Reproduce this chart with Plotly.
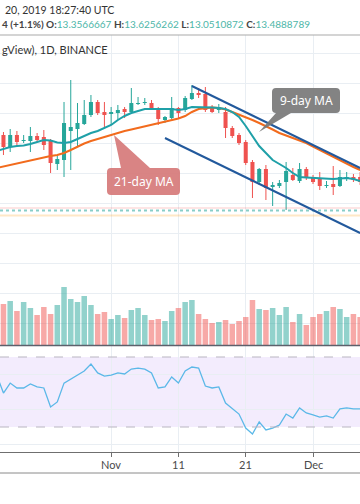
import plotly.graph_objects as go
import pandas as pd

W, H = 360, 504

# ---------------- data ----------------
all_dates = pd.date_range("2019-10-15", "2019-12-08", freq="D")
candle_dates = all_dates[1:]

opens  = [26.5, 25.3, 26.5, 25.9, 25.9, 26.4, 26.3, 26.0, 23.6, 24.0, 26.9, 27.1, 27.6, 28.5, 29.8, 28.8,
          28.6, 28.7, 29.1, 28.8, 29.6, 29.7, 29.7, 29.2, 28.0, 28.2, 29.2, 29.0, 30.1, 30.7, 30.6, 29.2,
          29.0, 28.8, 27.2, 26.5, 25.8, 23.8, 21.8, 23.1, 21.3, 21.4, 21.8, 22.5, 21.9, 23.1,
          22.3, 22.2, 21.4, 21.6, 21.4, 22.1, 22.3, 22.3]
highs  = [26.8, 27.1, 26.9, 26.5, 27.3, 26.7, 27.0, 26.1, 24.5, 29.8, 32.0, 29.7, 30.0, 30.5, 30.0, 29.8,
          29.3, 29.5, 29.3, 31.2, 30.3, 30.2, 30.0, 29.3, 28.4, 30.3, 29.3, 30.4, 31.5, 31.2, 31.3, 29.5,
          29.6, 29.3, 27.4, 26.7, 26.0, 24.0, 23.2, 23.5, 21.8, 22.0, 23.8, 23.2, 23.7, 23.3,
          22.5, 22.8, 21.9, 23.4, 23.0, 22.8, 22.6, 22.8]
lows   = [24.5, 24.8, 25.3, 25.7, 24.8, 25.8, 25.0, 22.7, 23.0, 22.3, 23.0, 25.3, 27.5, 28.3, 28.5, 27.3,
          27.5, 28.0, 28.2, 28.7, 29.5, 29.5, 29.0, 27.5, 27.7, 28.1, 28.2, 28.8, 30.0, 30.2, 28.8, 28.7,
          28.7, 26.2, 26.2, 25.5, 23.5, 20.2, 21.5, 20.0, 19.4, 21.2, 19.0, 21.9, 21.7, 22.0,
          21.6, 21.0, 21.2, 20.5, 21.3, 21.9, 21.8, 21.5]
closes = [25.3, 26.5, 25.8, 26.0, 26.4, 26.0, 25.5, 23.7, 24.1, 27.7, 27.3, 27.7, 28.5, 29.8, 28.7, 28.5,
          28.8, 29.0, 28.8, 29.7, 29.7, 29.8, 29.1, 28.1, 28.3, 29.2, 28.7, 30.2, 30.7, 30.5, 29.0, 28.8,
          29.3, 27.2, 26.4, 25.7, 23.7, 21.8, 23.1, 21.2, 21.5, 21.7, 22.9, 22.0, 23.1, 22.2,
          21.8, 21.4, 21.5, 21.3, 22.3, 22.3, 22.0, 21.8]
volumes = [410, 440, 340, 430, 370, 300, 380, 310, 400, 580, 460, 430, 490, 400, 310, 330,
           260, 300, 270, 350, 370, 300, 250, 260, 240, 340, 370, 430, 450, 310, 260, 220,
           230, 250, 210, 240, 280, 450, 360, 350, 370, 300, 380, 230, 310, 200,
           280, 310, 340, 380, 360, 280, 310, 280]
ma9 = [24.9, 25.1, 25.3, 25.4, 25.45, 25.6, 25.8, 26.0, 25.95, 25.75, 25.7, 25.8, 26.1, 26.4, 26.7, 26.9, 27.2,
       27.5, 28.0, 28.4, 28.7, 28.9, 29.1, 29.1, 29.1, 29.1, 29.1, 29.0, 29.1, 29.3, 29.3, 29.3, 29.25, 29.2,
       29.1, 28.8, 28.3, 27.4, 26.4, 25.4, 24.7, 24.0, 23.6, 23.2, 22.7, 22.3, 22.25,
       22.2, 22.15, 22.1, 22.1, 22.15, 22.2, 22.1, 21.9]
ma21 = [23.2, 23.35, 23.5, 23.7, 23.85, 24.0, 24.15, 24.3, 24.4, 24.5, 24.7, 25.0, 25.35, 25.65, 25.9, 26.1, 26.35,
        26.55, 26.7, 26.9, 27.05, 27.2, 27.4, 27.55, 27.7, 27.85, 28.0, 28.15, 28.4, 28.8, 29.1, 29.2, 29.25, 29.2,
        29.05, 28.8, 28.55, 28.25, 28.0, 27.7, 27.4, 27.05, 26.7, 26.45, 26.2, 26.0, 25.7,
        25.35, 25.0, 24.7, 24.35, 24.0, 23.65, 23.3, 23.0]
rsi = [59.7, 49.4, 55.1, 52.3, 52.3, 54.6, 52.9, 52.3, 41.4, 44.3, 55.1, 57.4, 59.7, 62.0, 66.0, 60.9, 59.1,
       59.7, 60.9, 60.3, 63.1, 63.7, 63.1, 60.9, 52.3, 52.9, 58.6, 55.1, 62.0, 64.3, 63.7, 53.4, 52.3, 52.9,
       43.7, 40.3, 37.4, 29.4, 26.0, 32.9, 28.3, 29.4, 31.1, 37.4, 35.1, 40.9, 38.0,
       36.9, 35.7, 36.3, 35.1, 40.3, 40.9, 40.3, 40.3]

tick_dates = ["2019-11-01", "2019-11-11", "2019-11-21", "2019-12-01"]
tick_labels = ["Nov", "11", "21", "Dec"]

upper_trend = (["2019-11-13", "2019-12-08"], [31.4, 23.2])
lower_trend = (["2019-11-09", "2019-12-08"], [26.2, 16.7])
price_lines = [19.2, 18.95, 18.45]

TEAL = "#26a69a"
RED = "#ef5350"
DAY = 86400000

# ---------------- helpers ----------------
def px(x):
    return x / W

def py(y):
    return 1 - y / H

def callout(x0, y0, x1, y1, r, tail_side, b1, b2, tip):
    P = lambda a, b: f"{px(a):.5f},{py(b):.5f}"
    s = f"M {P(x0 + r, y0)} "
    if tail_side == "top":
        s += f"L {P(b1, y0)} L {P(*tip)} L {P(b2, y0)} "
    s += f"L {P(x1 - r, y0)} Q {P(x1, y0)} {P(x1, y0 + r)} "
    s += f"L {P(x1, y1 - r)} Q {P(x1, y1)} {P(x1 - r, y1)} "
    if tail_side == "bottom":
        s += f"L {P(b2, y1)} L {P(*tip)} L {P(b1, y1)} "
    s += f"L {P(x0 + r, y1)} Q {P(x0, y1)} {P(x0, y1 - r)} "
    s += f"L {P(x0, y0 + r)} Q {P(x0, y0)} {P(x0 + r, y0)} Z"
    return s

# ---------------- figure ----------------
fig = go.Figure()

up = [c >= o for o, c in zip(opens, closes)]
vol_colors = ["rgba(38,166,154,0.5)" if u else "rgba(239,83,80,0.5)" for u in up]
fig.add_trace(go.Bar(x=candle_dates, y=volumes, marker=dict(color=vol_colors, line=dict(width=0)),
                     width=0.82 * DAY, xaxis="x", yaxis="y2", showlegend=False, hoverinfo="skip"))

# wicks
for flag, col in ((True, TEAL), (False, RED)):
    wx, wy = [], []
    for d, h, l, u in zip(candle_dates, highs, lows, up):
        if u == flag:
            wx += [d, d, None]
            wy += [l, h, None]
    fig.add_trace(go.Scatter(x=wx, y=wy, mode="lines", line=dict(color=col, width=1),
                             xaxis="x", yaxis="y", showlegend=False, hoverinfo="skip"))
# bodies
body_base = [min(o, c) for o, c in zip(opens, closes)]
body_h = [max(abs(c - o), 0.1) for o, c in zip(opens, closes)]
fig.add_trace(go.Bar(x=candle_dates, y=body_h, base=body_base, width=0.6 * DAY,
                     marker=dict(color=[TEAL if u else RED for u in up], line=dict(width=0)),
                     xaxis="x", yaxis="y", showlegend=False))

fig.add_trace(go.Scatter(x=all_dates, y=ma21, mode="lines", line=dict(color="#f26b1d", width=2),
                         xaxis="x", yaxis="y", showlegend=False))
fig.add_trace(go.Scatter(x=all_dates, y=ma9, mode="lines", line=dict(color="#1fa0a8", width=2),
                         xaxis="x", yaxis="y", showlegend=False))

fig.add_trace(go.Scatter(x=all_dates, y=rsi, mode="lines", line=dict(color="#5bb8e8", width=1.3),
                         xaxis="x2", yaxis="y3", showlegend=False))

grid = "#e9eef3"
fig.update_layout(
    width=W, height=H, margin=dict(l=0, r=0, t=0, b=0),
    paper_bgcolor="white", plot_bgcolor="white", barmode="overlay",
    xaxis=dict(domain=[0, 1], anchor="y", type="date",
               range=["2019-10-15 11:40", "2019-12-07 23:30"],
               rangeslider=dict(visible=False), showticklabels=False,
               tickvals=tick_dates, showgrid=True, gridcolor=grid, zeroline=False),
    yaxis=dict(domain=[py(345), py(35)], range=[5.5, 36.5], tick0=1.7, dtick=3,
               showticklabels=False, showgrid=True, gridcolor=grid, zeroline=False),
    yaxis2=dict(overlaying="y", range=[0, 3100], visible=False),
    xaxis2=dict(domain=[0, 1], anchor="y3", type="date", matches="x",
                tickvals=tick_dates, showticklabels=False, ticks="outside", ticklen=4,
                tickcolor="#6f6f6f", showline=True, linecolor="#6f6f6f", linewidth=1,
                showgrid=True, gridcolor=grid, zeroline=False),
    yaxis3=dict(domain=[py(452), py(346)], range=[15.7, 76.3], tick0=0, dtick=20,
                showticklabels=False, showgrid=True, gridcolor=grid, zeroline=False),
)

shapes = []
shapes.append(dict(type="rect", xref="paper", yref="y3", x0=0, x1=1, y0=30, y1=70,
                   fillcolor="rgba(150,80,235,0.11)", line=dict(width=0), layer="below"))
for lvl in (70, 30):
    shapes.append(dict(type="line", xref="paper", yref="y3", x0=0, x1=1, y0=lvl, y1=lvl,
                       line=dict(color="#b9b6c2", width=1.2, dash="dash")))
shapes.append(dict(type="line", xref="paper", yref="y", x0=0, x1=1, y0=price_lines[0], y1=price_lines[0],
                   line=dict(color="rgba(239,83,80,0.3)", width=1)))
shapes.append(dict(type="line", xref="paper", yref="y", x0=0, x1=1, y0=price_lines[1], y1=price_lines[1],
                   line=dict(color="rgba(38,166,154,0.55)", width=2, dash="dot")))
shapes.append(dict(type="line", xref="paper", yref="y", x0=0, x1=1, y0=price_lines[2], y1=price_lines[2],
                   line=dict(color="rgba(255,152,0,0.22)", width=2)))
for xs, ys in (upper_trend, lower_trend):
    shapes.append(dict(type="line", xref="x", yref="y", x0=xs[0], x1=xs[1], y0=ys[0], y1=ys[1],
                       line=dict(color="#22599c", width=2)))
shapes.append(dict(type="line", xref="paper", yref="paper", x0=0, x1=1, y0=py(35), y1=py(35),
                   line=dict(color="#a9a9a9", width=1)))
shapes.append(dict(type="line", xref="paper", yref="paper", x0=0, x1=1, y0=py(345.5), y1=py(345.5),
                   line=dict(color="#5d606b", width=1.5)))
shapes.append(dict(type="line", xref="paper", yref="paper", x0=0, x1=1, y0=py(473), y1=py(473),
                   line=dict(color="#8a8a8a", width=1)))
shapes.append(dict(type="path", xref="paper", yref="paper",
                   path=callout(272, 88, 340, 113, 4, "bottom", 276, 291, (259, 132)),
                   fillcolor="rgba(120,120,120,0.92)", line=dict(width=0)))
shapes.append(dict(type="path", xref="paper", yref="paper",
                   path=callout(107, 168, 180, 195, 4, "top", 121, 150, (114, 135)),
                   fillcolor="rgba(214,122,122,0.92)", line=dict(width=0)))
fig.update_layout(shapes=shapes)

ann = []
for d, t in zip(tick_dates, tick_labels):
    ann.append(dict(text=t, x=d, y=py(464), xref="x2", yref="paper", showarrow=False,
                    font=dict(family="Lato", size=11, color="#4a4a4a"), xanchor="center", yanchor="middle"))
ann.append(dict(text="9-day MA", x=px(306), y=py(100.5), xref="paper", yref="paper", showarrow=False,
                font=dict(family="Noto Sans", size=12, color="white"), xanchor="center", yanchor="middle"))
ann.append(dict(text="21-day MA", x=px(143.5), y=py(181.5), xref="paper", yref="paper", showarrow=False,
                font=dict(family="Noto Sans", size=12, color="white"), xanchor="center", yanchor="middle"))
val = "#4db6a8"
hdr2 = ("<b>4 (+1.1%) O:</b><span style='color:{v}'>13.3566667</span> <b>H:</b><span style='color:{v}'>13.6256262</span>"
        " <b>L:</b><span style='color:{v}'>13.0510872</span> <b>C:</b><span style='color:{v}'>13.4888789</span>").format(v=val)
ann.append(dict(text="20, 2019 18:27:40 UTC", x=px(3), y=py(10), xref="paper", yref="paper", showarrow=False,
                font=dict(family="Lato", size=10.5, color="#333333"), xanchor="left", yanchor="middle"))
ann.append(dict(text=hdr2, x=px(0), y=py(24), xref="paper", yref="paper", showarrow=False,
                font=dict(family="Lato", size=10, color="#444444"), xanchor="left", yanchor="middle"))
ann.append(dict(text="gView), 1D, BINANCE", x=px(0), y=py(50), xref="paper", yref="paper", showarrow=False,
                font=dict(family="Lato", size=11, color="#333333"), xanchor="left", yanchor="middle"))
fig.update_layout(annotations=ann)

fig.write_html("out.html", config={"displayModeBar": False},
               post_script="document.body.style.margin='0px';")
